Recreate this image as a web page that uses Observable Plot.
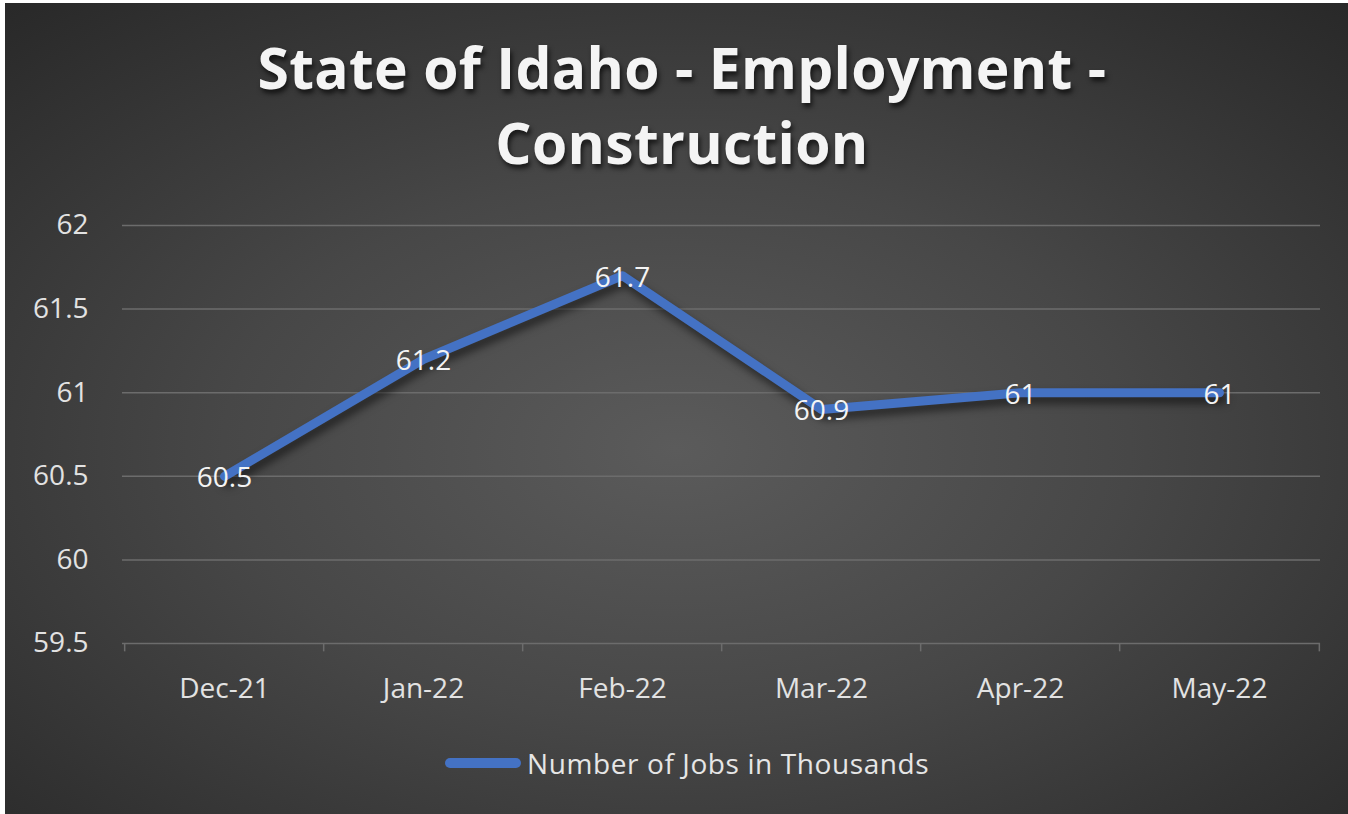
<!DOCTYPE html>
<html>
<head>
<meta charset="utf-8">
<script src="https://cdn.jsdelivr.net/npm/d3@7"></script>
<script src="https://cdn.jsdelivr.net/npm/@observablehq/plot@0.6"></script>
<style>
  body { margin: 0; background: #ffffff; }
  #chart {
    position: absolute; left: 5px; top: 3px; width: 1343px; height: 811px; overflow: hidden;
    background: radial-gradient(ellipse 75% 75% at 50% 55%, #5b5b5b 0%, #474747 45%, #333333 80%, #282828 100%);
    font-family: "Open Sans", sans-serif;
  }
  #title {
    position: absolute; left: 0; top: 27px; width: 100%; box-sizing: border-box; padding-left: 11px;
    text-align: center; font-weight: 700; font-size: 57px; line-height: 75px; color: #f4f4f4;
    letter-spacing: 0.3px;
    text-shadow: 2px 4px 5px rgba(0,0,0,0.65);
  }
  #plot { position: absolute; left: 0; top: 0; }
  #legend {
    position: absolute; left: 440px; top: 740px; height: 40px; display: flex; align-items: center;
    font-size: 28px; letter-spacing: 0.6px; color: #e6e6e6;
  }
  #legend .swatch { width: 76px; height: 10px; border-radius: 5px; background: #4472c4; margin-right: 6px; }
  g[aria-label="line"] { filter: drop-shadow(3px 6px 4px rgba(0,0,0,0.55)); }
</style>
</head>
<body>
<div id="chart">
  <div id="title"></div>
  <div id="plot"></div>
  <div id="legend"><div class="swatch"></div><span id="legend-text"></span></div>
</div>
<script>
const titleLines = ["State of Idaho - Employment -", "Construction"];
const months = ["Dec-21", "Jan-22", "Feb-22", "Mar-22", "Apr-22", "May-22"];
const jobs = [60.5, 61.2, 61.7, 60.9, 61, 61];
const yTicks = [59.5, 60, 60.5, 61, 61.5, 62];
const seriesName = "Number of Jobs in Thousands";

document.getElementById("title").innerHTML = titleLines.join("<br>");
document.getElementById("legend-text").textContent = seriesName;

const data = months.map((m, i) => ({month: m, value: jobs[i]}));

const W = 1343, H = 811;
const mL = 117, mR = 28, mT = 222, mB = 171;
const step = (W - mL - mR) / months.length;
const tickLen = 0.05;

const plot = Plot.plot({
  width: W,
  height: H,
  marginLeft: mL,
  marginRight: mR,
  marginTop: mT,
  marginBottom: mB,
  style: {background: "transparent", color: "#e2e2e2", fontFamily: "Open Sans, sans-serif", overflow: "visible"},
  x: {type: "point", domain: months, padding: 0.5, label: null},
  y: {domain: [yTicks[0], yTicks[yTicks.length - 1]], label: null},
  marks: [
    Plot.gridY(yTicks, {stroke: "#6c6c6c", strokeOpacity: 1, strokeWidth: 1.5}),
    Plot.ruleX(months, {x: d => d, y1: yTicks[0], y2: yTicks[0] - tickLen, dx: -step / 2, stroke: "#6c6c6c", strokeWidth: 1.5}),
    Plot.ruleX([months[months.length - 1]], {x: d => d, y1: yTicks[0], y2: yTicks[0] - tickLen, dx: step / 2, stroke: "#6c6c6c", strokeWidth: 1.5}),
    Plot.axisY({ticks: yTicks, tickSize: 0, tickPadding: 34, fontSize: 28, tickFormat: d => String(d), fill: "#e2e2e2"}),
    Plot.axisX({tickSize: 0, tickPadding: 35, fontSize: 28, fill: "#e2e2e2"}),
    Plot.line(data, {x: "month", y: "value", stroke: "#4472c4", strokeWidth: 9, strokeLinejoin: "round", strokeLinecap: "round"}),
    Plot.text(data, {x: "month", y: "value", text: d => String(d.value), fill: "#f4f4f4", fontSize: 28, dy: 2})
  ]
});
document.getElementById("plot").appendChild(plot);
</script>
</body>
</html>
